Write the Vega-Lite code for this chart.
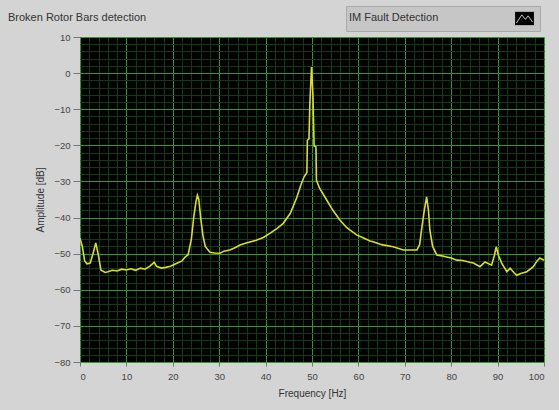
{
  "$schema": "https://vega.github.io/schema/vega-lite/v6.json",
  "width": 464,
  "height": 325,
  "autosize": {"type": "none"},
  "padding": {"left": 80, "top": 37, "right": 15, "bottom": 48},
  "background": "#d4d4d4",
  "title": {"text": "Broken Rotor Bars detection", "anchor": "start", "frame": "group", "dx": -72, "dy": 17, "offset": 0, "fontSize": 11, "fontWeight": "normal", "color": "#333333"},
  "data": {"values": [
    {"f": 0, "db": -45.7}, {"f": 0.5, "db": -48}, {"f": 1, "db": -52}, {"f": 1.5, "db": -52.8}, {"f": 2.2, "db": -52.6},
    {"f": 2.8, "db": -50}, {"f": 3.4, "db": -47}, {"f": 3.9, "db": -50}, {"f": 4.5, "db": -54.5}, {"f": 5.4, "db": -55.2},
    {"f": 6, "db": -55}, {"f": 7, "db": -54.6}, {"f": 8, "db": -54.8}, {"f": 9, "db": -54.3}, {"f": 10, "db": -54.5},
    {"f": 11, "db": -54.2}, {"f": 12, "db": -54.6}, {"f": 13, "db": -54}, {"f": 14, "db": -54.3}, {"f": 15, "db": -53.5},
    {"f": 16, "db": -52.4}, {"f": 16.5, "db": -53.5}, {"f": 17.5, "db": -54}, {"f": 18.5, "db": -53.8}, {"f": 19.5, "db": -53.5},
    {"f": 21, "db": -52.6}, {"f": 22, "db": -52}, {"f": 22.6, "db": -51}, {"f": 23.3, "db": -50.3}, {"f": 24, "db": -46},
    {"f": 24.5, "db": -40}, {"f": 25, "db": -35.5}, {"f": 25.3, "db": -33.8}, {"f": 25.6, "db": -35}, {"f": 26, "db": -40},
    {"f": 26.5, "db": -45}, {"f": 27, "db": -48}, {"f": 28, "db": -49.6}, {"f": 29, "db": -49.8}, {"f": 30.2, "db": -49.9},
    {"f": 31, "db": -49.3}, {"f": 32.3, "db": -49}, {"f": 33.5, "db": -48.3}, {"f": 34.5, "db": -47.6}, {"f": 36, "db": -47},
    {"f": 38, "db": -46.3}, {"f": 39.5, "db": -45.5}, {"f": 41, "db": -44.3}, {"f": 42.5, "db": -43}, {"f": 43.8, "db": -41.6},
    {"f": 45.3, "db": -38.9}, {"f": 46.7, "db": -34.5}, {"f": 47.6, "db": -31}, {"f": 48.3, "db": -28.7}, {"f": 48.9, "db": -27.5},
    {"f": 49.0, "db": -18.6}, {"f": 49.35, "db": -18.2}, {"f": 49.55, "db": -8}, {"f": 49.9, "db": 1.7}, {"f": 50.2, "db": -6},
    {"f": 50.45, "db": -20.2}, {"f": 50.85, "db": -20.4}, {"f": 50.95, "db": -29.6}, {"f": 51.6, "db": -31.8}, {"f": 53.2, "db": -35.2},
    {"f": 54.5, "db": -38}, {"f": 56, "db": -40.7}, {"f": 57.5, "db": -42.8}, {"f": 59.6, "db": -44.8}, {"f": 61, "db": -45.6},
    {"f": 62.5, "db": -46.5}, {"f": 63.2, "db": -46.7}, {"f": 65, "db": -47.5}, {"f": 67.5, "db": -48.1}, {"f": 69.7, "db": -49},
    {"f": 71, "db": -49}, {"f": 72.6, "db": -49}, {"f": 73.2, "db": -47.5}, {"f": 73.6, "db": -43.5}, {"f": 74.2, "db": -38},
    {"f": 74.7, "db": -34.3}, {"f": 75.1, "db": -38}, {"f": 75.4, "db": -43.5}, {"f": 76, "db": -48}, {"f": 76.9, "db": -50.4},
    {"f": 78, "db": -50.6}, {"f": 79, "db": -50.9}, {"f": 80, "db": -51.2}, {"f": 81.2, "db": -51.8}, {"f": 82.5, "db": -51.9},
    {"f": 84, "db": -52.4}, {"f": 84.8, "db": -52.6}, {"f": 86.2, "db": -53.6}, {"f": 87.3, "db": -52.3}, {"f": 88.7, "db": -53.2},
    {"f": 89.3, "db": -50.5}, {"f": 89.7, "db": -48.1}, {"f": 90.2, "db": -50.5}, {"f": 90.9, "db": -52.7}, {"f": 92, "db": -55},
    {"f": 92.7, "db": -54}, {"f": 93.5, "db": -55.2}, {"f": 94.1, "db": -56}, {"f": 95, "db": -55.5}, {"f": 96.3, "db": -55},
    {"f": 97.7, "db": -53.6}, {"f": 98.5, "db": -52}, {"f": 99.1, "db": -51.2}, {"f": 100, "db": -51.8}
  ]},
  "layer": [
    {
      "mark": {"type": "line", "color": "#dede1a", "strokeWidth": 1.6, "clip": true},
      "encoding": {
        "x": {"field": "f", "type": "quantitative", "scale": {"domain": [0, 100], "nice": false},
          "axis": {"orient": "bottom", "values": [0,10,20,30,40,50,60,70,80,90,100], "title": "Frequency [Hz]", "grid": true, "gridColor": "#2a9c2a", "gridWidth": 1, "domain": false, "tickColor": "#777777", "tickSize": 4, "labelFontSize": 9.5, "labelColor": "#444444", "labelPadding": 5, "titleFontSize": 10, "titleFontWeight": "normal", "titleColor": "#333333", "titlePadding": 8}},
        "y": {"field": "db", "type": "quantitative", "scale": {"domain": [-80, 10], "nice": false},
          "axis": {"orient": "left", "values": [-80,-70,-60,-50,-40,-30,-20,-10,0,10], "title": "Amplitude [dB]", "grid": true, "gridColor": "#2a9c2a", "gridWidth": 1, "domain": false, "tickColor": "#777777", "tickSize": 7, "labelFontSize": 9.5, "labelColor": "#444444", "labelPadding": 3, "titleFontSize": 10, "titleFontWeight": "normal", "titleColor": "#333333", "titlePadding": 8}}
      }
    },
    {
      "mark": {"type": "line", "opacity": 0},
      "encoding": {
        "x": {"field": "f", "type": "quantitative",
          "axis": {"orient": "top", "values": [2,4,6,8,12,14,16,18,22,24,26,28,32,34,36,38,42,44,46,48,52,54,56,58,62,64,66,68,72,74,76,78,82,84,86,88,92,94,96,98], "title": null, "labels": false, "ticks": false, "domain": false, "grid": true, "gridColor": "#0f3d0f", "gridWidth": 1}},
        "y": {"field": "db", "type": "quantitative",
          "axis": {"orient": "right", "values": [-78,-76,-74,-72,-68,-66,-64,-62,-58,-56,-54,-52,-48,-46,-44,-42,-38,-36,-34,-32,-28,-26,-24,-22,-18,-16,-14,-12,-8,-6,-4,-2,2,4,6,8], "title": null, "labels": false, "ticks": false, "domain": false, "grid": true, "gridColor": "#0f3d0f", "gridWidth": 1}},
        "color": {"datum": "IM Fault Detection", "type": "nominal", "scale": {"range": ["#c8c8c8"]},
          "legend": {"orient": "none", "legendX": 266, "legendY": -31, "title": "IM Fault Detection", "titleOrient": "left", "titleFontSize": 11, "titleFontWeight": "normal", "titleColor": "#333333", "titlePadding": 76, "labelExpr": "''", "labelOffset": 0, "fillColor": "#c6c6c6", "strokeColor": "#aaaaaa", "padding": 3,
            "symbolType": "M-1.1,-0.8H1.1V0.8H-1.1Z M-0.9,0.5L-0.3,-0.4L0.1,0.1L0.4,-0.3L0.9,0.4", "symbolSize": 324, "symbolOpacity": 1, "symbolFillColor": "#000000", "symbolStrokeWidth": 1}}
      }
    }
  ],
  "resolve": {"axis": {"x": "independent", "y": "independent"}},
  "config": {
    "font": "Liberation Sans",
    "view": {"fill": "#000000", "stroke": null}
  }
}
